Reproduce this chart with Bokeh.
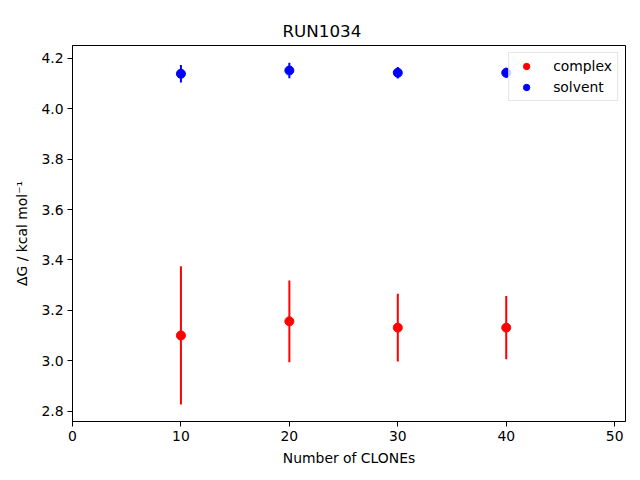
from bokeh.plotting import figure
from bokeh.models import ColumnDataSource, Range1d, Legend, LegendItem, FixedTicker, PrintfTickFormatter, Title
from bokeh.embed import file_html
from bokeh.resources import INLINE

# ---- data ----
clones = [10, 20, 30, 40]
complex_dg = [3.101, 3.157, 3.132, 3.132]
complex_err = [0.274, 0.162, 0.134, 0.125]
solvent_dg = [4.138, 4.151, 4.142, 4.142]
solvent_err = [0.035, 0.031, 0.023, 0.020]
x_ticks = [0, 10, 20, 30, 40, 50]
y_ticks = [2.8, 3.0, 3.2, 3.4, 3.6, 3.8, 4.0, 4.2]
title_text = "RUN1034"
x_label = "Number of CLONEs"
y_label = "ΔG / kcal mol⁻¹"

FONT = "DejaVu Sans"


def make_source(x, y, e):
    return ColumnDataSource(dict(
        x=x, y=y,
        lo=[a - b for a, b in zip(y, e)],
        hi=[a + b for a, b in zip(y, e)],
    ))


src_c = make_source(clones, complex_dg, complex_err)
src_s = make_source(clones, solvent_dg, solvent_err)

p = figure(
    frame_width=553, frame_height=376,
    x_range=Range1d(0, 51), y_range=Range1d(2.76, 4.25),
    output_backend="svg", toolbar_location=None,
    min_border_left=72, min_border_top=45, min_border_right=15, min_border_bottom=59,
)
p.grid.visible = False
p.outline_line_color = "black"
p.outline_line_width = 1
p.background_fill_color = "white"
p.border_fill_color = "white"

# real title (outer), invisible spacer title next to the frame
p.title.text = title_text
p.title.align = "left"
p.title.offset = 210
p.title.standoff = 10
p.title.text_font = FONT
p.title.text_font_size = "16.7px"
p.title.text_font_style = "normal"
p.title.text_color = "black"

spacer = Title(
    text="\u200b", standoff=0, text_font=FONT, text_font_size="9px", text_alpha=0,
)
p.add_layout(spacer, "above")

# error bars
p.segment(x0="x", y0="lo", x1="x", y1="hi", source=src_c, line_color="#ff0000", line_width=2)
p.segment(x0="x", y0="lo", x1="x", y1="hi", source=src_s, line_color="#0000ff", line_width=2)
r_c = p.scatter(x="x", y="y", source=src_c, size=9, fill_color="#ff0000", line_color="#ff0000")
r_s = p.scatter(x="x", y="y", source=src_s, size=9, fill_color="#0000ff", line_color="#0000ff")

# axes
for ax in (p.xaxis[0], p.yaxis[0]):
    ax.major_tick_in = 0
    ax.major_tick_out = 5
    ax.minor_tick_in = 0
    ax.minor_tick_out = 0
    ax.major_label_text_font = FONT
    ax.major_label_text_font_size = "13.9px"
    ax.major_label_text_color = "black"
    ax.axis_label_text_font = FONT
    ax.axis_label_text_font_size = "13.9px"
    ax.axis_label_text_font_style = "normal"
    ax.axis_label_text_color = "black"
    ax.axis_line_color = "black"
    ax.major_tick_line_color = "black"
    ax.major_label_standoff = 4

p.xaxis[0].ticker = FixedTicker(ticks=x_ticks)
p.yaxis[0].ticker = FixedTicker(ticks=y_ticks)
p.yaxis[0].formatter = PrintfTickFormatter(format="%.1f")
p.xaxis[0].axis_label = x_label
p.yaxis[0].axis_label = y_label
p.xaxis[0].axis_label_standoff = 6
p.yaxis[0].axis_label_standoff = 8

legend = Legend(
    items=[LegendItem(label="complex", renderers=[r_c]),
           LegendItem(label="solvent", renderers=[r_s])],
    location="top_right",
    margin=7,
    padding=5,
    spacing=5,
    label_text_font=FONT,
    label_text_font_size="13.9px",
    label_text_color="black",
    border_line_color="#cccccc",
    border_line_width=1,
    background_fill_alpha=0.8,
    glyph_width=24,
    glyph_height=16,
    label_standoff=15,
    label_height=16,
)
p.add_layout(legend, "center")

open("out.html", "w").write(file_html(p, INLINE))
